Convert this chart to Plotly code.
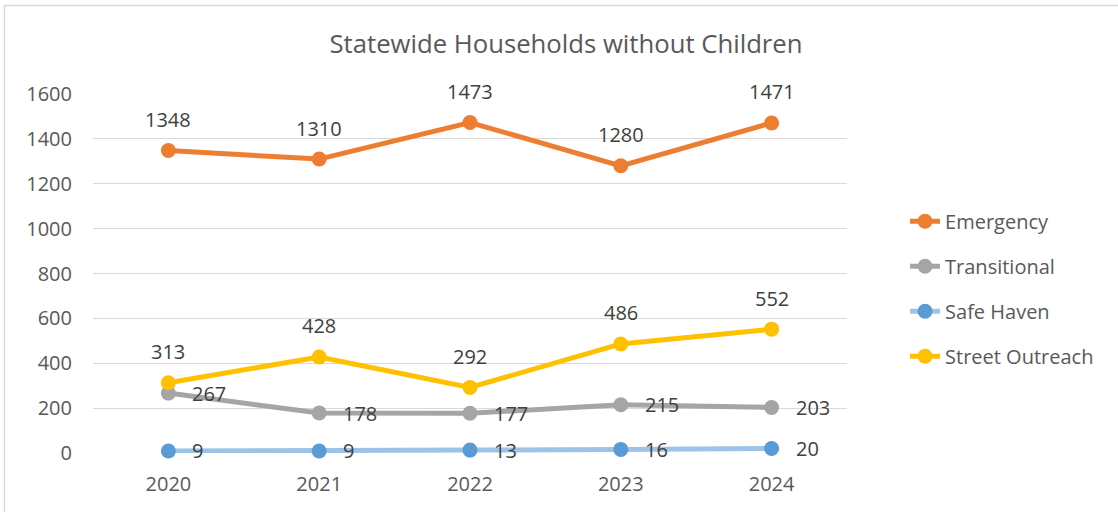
import plotly.graph_objects as go

years = ["2020", "2021", "2022", "2023", "2024"]
emergency = [1348, 1310, 1473, 1280, 1471]
transitional = [267, 178, 177, 215, 203]
safe_haven = [9, 9, 13, 16, 20]
street_outreach = [313, 428, 292, 486, 552]
y_ticks = [0, 200, 400, 600, 800, 1000, 1200, 1400, 1600]

FONT = "Open Sans"
series = [
    ("Emergency", emergency, "#ED7D31", "#ED7D31", "above"),
    ("Transitional", transitional, "#A5A5A5", "#A5A5A5", "right"),
    ("Safe Haven", safe_haven, "#9DC3E6", "#5B9BD5", "right"),
    ("Street Outreach", street_outreach, "#FFC000", "#FFC000", "above"),
]

fig = go.Figure()
annotations = []
for name, vals, lc, mc, pos in series:
    fig.add_trace(go.Scatter(
        x=years, y=vals, name=name, mode="lines+markers",
        line=dict(color=lc, width=5),
        marker=dict(color=mc, size=15),
        cliponaxis=False, legendgroup=name,
    ))
    for idx, v in enumerate(vals):
        ann = dict(x=idx, y=v, xref="x", yref="y", text=str(v), showarrow=False,
                   yanchor="middle",
                   font=dict(family=FONT, size=20, color="#404040"))
        if pos == "above":
            ann.update(yshift=31, xanchor="center")
        else:
            ann.update(xshift=22, xanchor="left")
        annotations.append(ann)

fig.update_layout(
    width=1118, height=512,
    margin=dict(l=93, r=271, t=94, b=59),
    paper_bgcolor="white", plot_bgcolor="white",
    title=dict(text="Statewide Households without Children", x=566 / 1118, xanchor="center",
               y=1 - 44 / 512, yanchor="middle",
               font=dict(family=FONT, size=25.7, color="#595959")),
    xaxis=dict(type="category", range=[-0.5, 4.5], showgrid=False, zeroline=False,
               showline=False, ticks="", ticklabelstandoff=17,
               tickfont=dict(family=FONT, size=20, color="#595959")),
    yaxis=dict(range=[0, 1600], tickvals=y_ticks, showgrid=True, gridcolor="#D9D9D9",
               gridwidth=1, zeroline=False, showline=False, ticks="", ticklabelstandoff=20,
               tickfont=dict(family=FONT, size=20, color="#595959")),
    legend=dict(x=1.077, xanchor="left", y=0.70, yanchor="top",
                font=dict(family=FONT, size=20, color="#595959"),
                traceorder="grouped", tracegroupgap=16, bgcolor="rgba(0,0,0,0)"),
    annotations=annotations,
    shapes=[dict(type="rect", xref="paper", yref="paper",
                 x0=(4.5 - 93) / 754, x1=(1130 - 93) / 754,
                 y0=(453 - 530) / 359, y1=(453 - 5.5) / 359,
                 line=dict(color="#D9D9D9", width=1.5), layer="below")],
)

fig.write_html("out.html")
